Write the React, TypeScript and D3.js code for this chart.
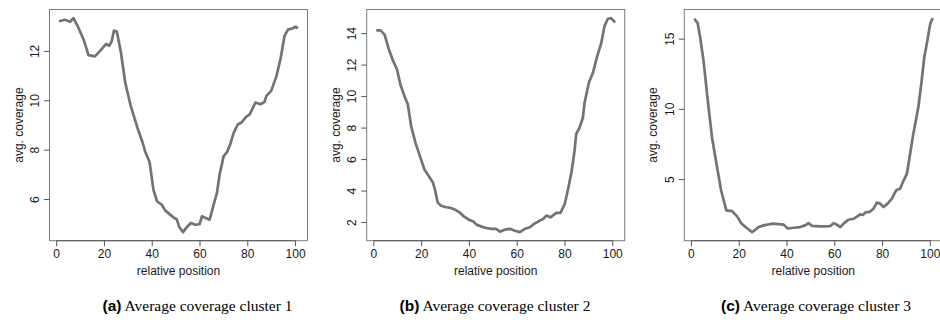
import React from "react";
import * as d3 from "d3";

// ---------- data (relative position, avg. coverage) ----------
const cluster1X = [1, 3.5, 5.6, 7, 9, 11.5, 13.3, 16, 18.2, 20.7, 22, 23, 24, 25.2, 26.9, 28.7, 31, 33.8, 36, 37, 38.9, 40.5, 42, 44, 45.4, 47.5, 49.2, 50.3, 51.3, 52.9, 54.5, 56.2, 58, 59.8, 60.8, 62.6, 64, 65.7, 67.1, 68.2, 69.9, 71.3, 72.7, 74.1, 75.8, 77.2, 79.4, 80.8, 82.5, 83.2, 85.3, 87, 87.8, 89.8, 92, 93.7, 95.4, 96.8, 98.6, 100, 101];
const cluster1Y = [13.22, 13.28, 13.2, 13.35, 12.98, 12.43, 11.85, 11.8, 12.02, 12.3, 12.23, 12.4, 12.84, 12.8, 11.96, 10.74, 9.79, 8.91, 8.3, 7.96, 7.51, 6.4, 5.93, 5.79, 5.56, 5.39, 5.25, 5.2, 4.89, 4.68, 4.89, 5.05, 4.98, 5.0, 5.32, 5.24, 5.18, 5.79, 6.27, 7.01, 7.76, 7.92, 8.25, 8.7, 9.04, 9.11, 9.36, 9.45, 9.79, 9.93, 9.86, 9.95, 10.2, 10.4, 11.0, 11.69, 12.63, 12.88, 12.93, 13.0, 12.93];

const cluster2X = [1, 2.8, 4.5, 6.3, 8.1, 9.7, 11.1, 12.8, 14.2, 15.6, 17.4, 19.7, 21.1, 22.9, 24.7, 25.7, 26.7, 28.1, 30.3, 32.2, 34, 35.8, 37.8, 40, 41.7, 43.1, 45.2, 47.3, 49.3, 51.1, 52.8, 54.9, 56.9, 59, 61.1, 63.2, 65.3, 67, 69.5, 70.8, 72.2, 73.9, 76.4, 78.1, 79.9, 81.3, 82.7, 84, 84.7, 86.1, 87.5, 88.2, 90, 91.7, 93.3, 95.2, 96.5, 97.9, 99.3, 101];
const cluster2Y = [14.21, 14.21, 13.94, 12.99, 12.25, 11.72, 10.77, 10.03, 9.51, 8.13, 7.08, 6.03, 5.39, 4.97, 4.55, 4.02, 3.28, 3.07, 2.97, 2.93, 2.82, 2.65, 2.37, 2.16, 2.06, 1.85, 1.74, 1.64, 1.6, 1.6, 1.42, 1.55, 1.6, 1.48, 1.39, 1.6, 1.7, 1.91, 2.12, 2.22, 2.44, 2.33, 2.61, 2.61, 3.18, 4.13, 5.18, 6.55, 7.61, 8.03, 8.66, 9.61, 10.88, 11.51, 12.46, 13.41, 14.46, 14.93, 14.99, 14.72];

const cluster3X = [1.2, 2.6, 3.8, 5.1, 6.8, 8.6, 10.7, 12.4, 14.6, 17, 19.1, 20.8, 23, 25.4, 26.7, 28.1, 30.2, 33.7, 36.5, 38.6, 40.3, 42.8, 45.5, 47.6, 49, 50.4, 53.9, 58.1, 59.5, 60.9, 62.3, 63.9, 65.7, 67.8, 69.4, 70.6, 71.7, 73.1, 74.5, 76.2, 77.6, 79, 80.4, 82.1, 83.9, 85.7, 87.4, 88.5, 90.2, 91.4, 92.9, 95, 96.4, 97.4, 98.8, 100, 101];
const cluster3Y = [16.45, 16.14, 14.95, 13.4, 10.66, 8.0, 5.9, 4.24, 2.81, 2.76, 2.38, 1.9, 1.57, 1.26, 1.43, 1.62, 1.74, 1.86, 1.83, 1.79, 1.52, 1.57, 1.62, 1.74, 1.9, 1.71, 1.67, 1.69, 1.9, 1.79, 1.62, 1.9, 2.14, 2.21, 2.38, 2.52, 2.48, 2.69, 2.69, 2.93, 3.36, 3.29, 3.05, 3.29, 3.64, 4.24, 4.36, 4.83, 5.43, 6.7, 8.29, 10.19, 12.09, 13.64, 14.95, 16.14, 16.5];

const xTicks = [0, 20, 40, 60, 80, 100];
const yTicks1 = [6, 8, 10, 12];
const yTicks2 = [2, 4, 6, 8, 10, 12, 14];
const yTicks3 = [5, 10, 15];

const captionTags = ["(a)", "(b)", "(c)"];
const captionTexts = ["Average coverage cluster 1", "Average coverage cluster 2", "Average coverage cluster 3"];
const xLabel = "relative position";
const yLabel = "avg. coverage";

// ---------- layout ----------
const W = 940;
const H = 322;
const panelLefts = [49.5, 366.7, 684.3];
const panelW = 258;
const plotTop = 9.5;
const plotBottom = 240.7;
const captionCenters = [197.5, 495, 816];

const SANS = "'Liberation Sans', Arial, Helvetica, sans-serif";
const SERIF = "'Liberation Serif', 'Times New Roman', serif";

function pad(ext: [number, number]): [number, number] {
  const r = ext[1] - ext[0];
  return [ext[0] - 0.04 * r, ext[1] + 0.04 * r];
}

type PanelProps = {
  left: number;
  xs: number[];
  ys: number[];
  yTicks: number[];
  tag: string;
  text: string;
  capX: number;
};

function Panel({ left, xs, ys, yTicks, tag, text, capX }: PanelProps) {
  const x = d3.scaleLinear().domain(pad([1, 101])).range([left, left + panelW]);
  const y = d3
    .scaleLinear()
    .domain(pad(d3.extent(ys) as [number, number]))
    .range([plotBottom, plotTop]);
  const pts = xs.map((v, i) => [v, ys[i]] as [number, number]);
  const line = d3
    .line<[number, number]>()
    .x((d) => x(d[0]))
    .y((d) => y(d[1]));
  const tick = 5.5;
  const tickColor = "#555";
  const yMid = (plotTop + plotBottom) / 2;
  return (
    <g>
      <path d={line(pts) || ""} fill="none" stroke="#737373" strokeWidth={2.7} strokeLinejoin="round" />
      <rect
        x={left}
        y={plotTop}
        width={panelW}
        height={plotBottom - plotTop}
        fill="none"
        stroke="#7a7a7a"
        strokeWidth={1}
      />
      {/* x axis */}
      <line x1={x(xTicks[0])} x2={x(xTicks[xTicks.length - 1])} y1={plotBottom} y2={plotBottom} stroke={tickColor} />
      {xTicks.map((t) => (
        <g key={"x" + t}>
          <line x1={x(t)} x2={x(t)} y1={plotBottom} y2={plotBottom + tick} stroke={tickColor} />
          <text x={x(t)} y={plotBottom + 17} textAnchor="middle" fontFamily={SANS} fontSize={12} fill="#1a1a1a">
            {t}
          </text>
        </g>
      ))}
      <text x={left + panelW / 2} y={275} textAnchor="middle" fontFamily={SANS} fontSize={12} fill="#1a1a1a">
        {xLabel}
      </text>
      {/* y axis */}
      {yTicks.map((t) => (
        <g key={"y" + t}>
          <line x1={left} x2={left - tick} y1={y(t)} y2={y(t)} stroke={tickColor} />
          <text
            transform={`translate(${left - 10.5},${y(t)}) rotate(-90)`}
            textAnchor="middle"
            fontFamily={SANS}
            fontSize={12}
            fill="#1a1a1a"
          >
            {t}
          </text>
        </g>
      ))}
      <text
        transform={`translate(${left - 27},${yMid}) rotate(-90)`}
        textAnchor="middle"
        fontFamily={SANS}
        fontSize={12}
        fill="#1a1a1a"
      >
        {yLabel}
      </text>
      {/* caption */}
      <text x={capX} y={311} fontSize={15.5} fill="#000" textAnchor="middle">
        <tspan fontFamily={SANS} fontWeight="bold">
          {tag}
        </tspan>
        <tspan fontFamily={SERIF}> {text}</tspan>
      </text>
    </g>
  );
}

export default function App() {
  const series = [
    { xs: cluster1X, ys: cluster1Y, ticks: yTicks1 },
    { xs: cluster2X, ys: cluster2Y, ticks: yTicks2 },
    { xs: cluster3X, ys: cluster3Y, ticks: yTicks3 },
  ];
  return (
    <svg
      width={W}
      height={H}
      viewBox={`0 0 ${W} ${H}`}
      style={{ position: "absolute", left: 0, top: 0, background: "#fff", display: "block" }}
    >
      <rect x={0} y={0} width={W} height={H} fill="#fff" />
      {series.map((s, i) => (
        <Panel
          key={i}
          left={panelLefts[i]}
          xs={s.xs}
          ys={s.ys}
          yTicks={s.ticks}
          tag={captionTags[i]}
          text={captionTexts[i]}
          capX={captionCenters[i]}
        />
      ))}
    </svg>
  );
}
